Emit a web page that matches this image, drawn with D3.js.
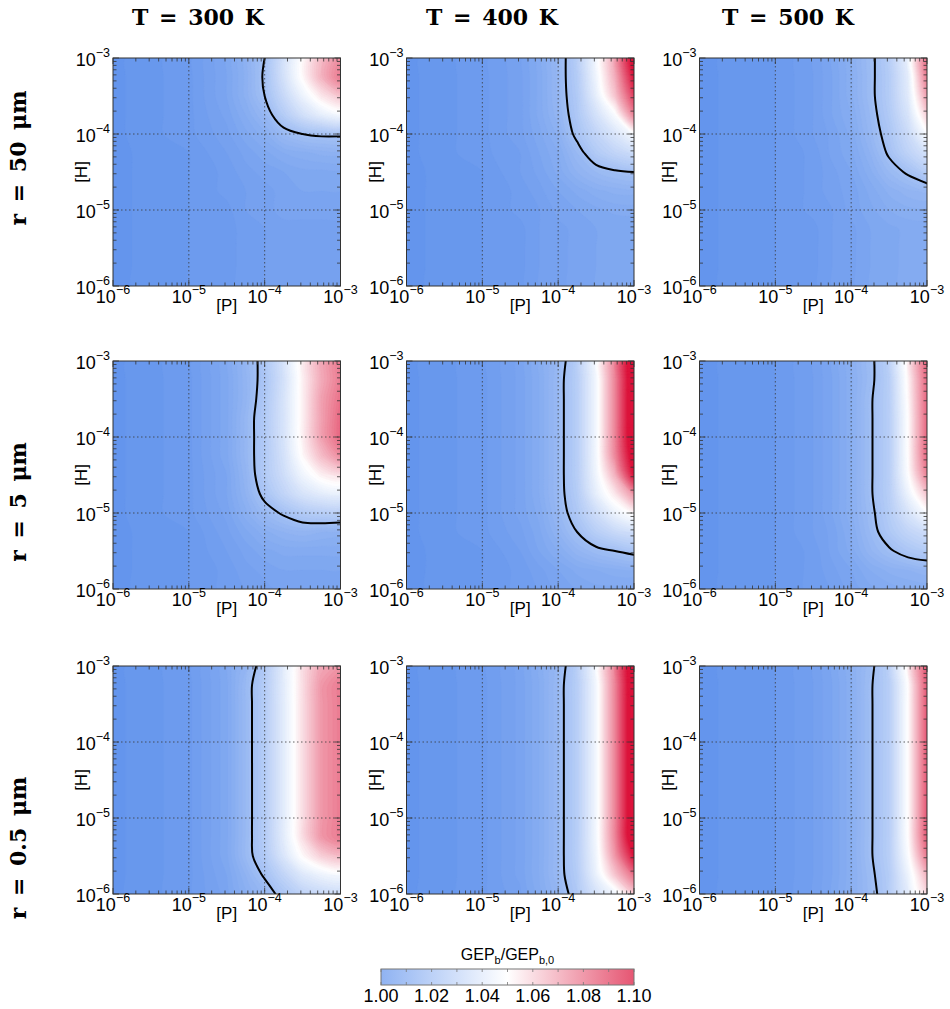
<!DOCTYPE html>
<html>
<head>
<meta charset="utf-8">
<script src="https://cdn.jsdelivr.net/npm/d3@7"></script>
<style>
  body { margin: 0; background: #fff; }
  svg text { font-family: "Liberation Sans", Arial, sans-serif; fill: #000; }
  .title { font-family: "DejaVu Serif", serif; font-weight: bold; }
</style>
</head>
<body>
<svg id="fig" width="950" height="1009"></svg>
<script>
// grid nodes in log10 space; rows of every panel run from [H]=1e-3 (top) down to 1e-6
const pNodes = [-6, -5, -4.5, -4.25, -4, -3.75, -3.5, -3.25, -3];
const hNodes = [-3, -3.25, -3.5, -3.75, -4, -4.25, -4.5, -4.75, -5, -5.25, -5.5, -5.75, -6];

const temperatures = ["T = 300 K", "T = 400 K", "T = 500 K"];
const radii = ["r = 50 μm", "r = 5 μm", "r = 0.5 μm"];
const decades = [1e-6, 1e-5, 1e-4, 1e-3];
const decadeExp = ["−6", "−5", "−4", "−3"];
const cbTicks = [1.00, 1.02, 1.04, 1.06, 1.08, 1.10];
const contourLevel = 1.02;

// GEP_b / GEP_b,0
const gep_r50_T300 = [
  [1.000,1.003,1.008,1.013,1.020,1.035,1.050,1.064,1.074],
  [1.000,1.003,1.008,1.013,1.021,1.036,1.051,1.066,1.078],
  [1.000,1.003,1.008,1.013,1.020,1.032,1.044,1.055,1.062],
  [1.000,1.003,1.007,1.011,1.016,1.026,1.035,1.042,1.046],
  [1.000,1.003,1.006,1.009,1.012,1.017,1.020,1.021,1.021],
  [1.000,1.002,1.005,1.007,1.009,1.011,1.012,1.013,1.013],
  [1.000,1.002,1.004,1.006,1.007,1.008,1.009,1.009,1.009],
  [1.000,1.002,1.004,1.005,1.006,1.007,1.008,1.008,1.008],
  [1.000,1.002,1.003,1.005,1.006,1.007,1.007,1.007,1.007],
  [1.000,1.002,1.003,1.004,1.005,1.006,1.006,1.006,1.006],
  [1.000,1.002,1.003,1.004,1.005,1.006,1.006,1.006,1.006],
  [1.000,1.002,1.003,1.004,1.005,1.006,1.006,1.006,1.006],
  [1.000,1.002,1.003,1.004,1.005,1.006,1.006,1.006,1.006]
];
const gep_r50_T400 = [
  [1.000,1.003,1.006,1.010,1.016,1.026,1.045,1.068,1.105],
  [1.000,1.003,1.006,1.010,1.016,1.026,1.045,1.067,1.100],
  [1.000,1.003,1.006,1.010,1.016,1.025,1.042,1.062,1.090],
  [1.000,1.003,1.006,1.010,1.015,1.024,1.036,1.048,1.076],
  [1.000,1.003,1.006,1.009,1.013,1.022,1.030,1.038,1.047],
  [1.000,1.003,1.005,1.008,1.011,1.017,1.025,1.030,1.033],
  [1.000,1.002,1.005,1.007,1.010,1.014,1.017,1.019,1.020],
  [1.000,1.002,1.004,1.006,1.008,1.010,1.012,1.013,1.013],
  [1.000,1.002,1.004,1.005,1.007,1.008,1.009,1.010,1.010],
  [1.000,1.002,1.003,1.005,1.006,1.007,1.008,1.008,1.008],
  [1.000,1.002,1.003,1.005,1.006,1.007,1.008,1.008,1.008],
  [1.000,1.002,1.003,1.005,1.006,1.007,1.008,1.008,1.008],
  [1.000,1.002,1.003,1.005,1.006,1.007,1.008,1.008,1.008]
];
const gep_r50_T500 = [
  [1.000,1.002,1.005,1.008,1.012,1.018,1.026,1.042,1.080],
  [1.000,1.002,1.005,1.008,1.012,1.018,1.026,1.041,1.078],
  [1.000,1.002,1.005,1.008,1.012,1.018,1.026,1.040,1.070],
  [1.000,1.002,1.005,1.008,1.011,1.017,1.025,1.037,1.060],
  [1.000,1.002,1.005,1.007,1.010,1.016,1.023,1.033,1.048],
  [1.000,1.002,1.004,1.007,1.009,1.014,1.021,1.029,1.036],
  [1.000,1.002,1.004,1.006,1.008,1.012,1.017,1.021,1.026],
  [1.000,1.002,1.004,1.006,1.007,1.010,1.013,1.015,1.016],
  [1.000,1.002,1.004,1.005,1.007,1.009,1.011,1.012,1.012],
  [1.000,1.002,1.003,1.005,1.006,1.008,1.009,1.010,1.010],
  [1.000,1.002,1.003,1.005,1.006,1.008,1.009,1.010,1.010],
  [1.000,1.002,1.003,1.005,1.006,1.008,1.009,1.010,1.010],
  [1.000,1.002,1.003,1.005,1.006,1.008,1.009,1.010,1.010]
];
const gep_r5_T300 = [
  [1.000,1.003,1.009,1.015,1.023,1.036,1.053,1.068,1.078],
  [1.000,1.003,1.009,1.015,1.023,1.036,1.053,1.068,1.078],
  [1.000,1.003,1.009,1.015,1.024,1.037,1.053,1.070,1.080],
  [1.000,1.003,1.009,1.016,1.025,1.037,1.053,1.070,1.082],
  [1.000,1.003,1.009,1.016,1.025,1.037,1.053,1.070,1.082],
  [1.000,1.003,1.009,1.016,1.025,1.036,1.051,1.064,1.074],
  [1.000,1.003,1.008,1.015,1.025,1.034,1.045,1.053,1.056],
  [1.000,1.003,1.008,1.014,1.022,1.030,1.037,1.041,1.042],
  [1.000,1.003,1.007,1.012,1.017,1.021,1.025,1.027,1.027],
  [1.000,1.002,1.006,1.009,1.012,1.014,1.015,1.014,1.013],
  [1.000,1.002,1.005,1.007,1.009,1.010,1.010,1.010,1.010],
  [1.000,1.002,1.004,1.006,1.007,1.008,1.008,1.008,1.008],
  [1.000,1.002,1.004,1.005,1.006,1.007,1.007,1.007,1.007]
];
const gep_r5_T400 = [
  [1.000,1.003,1.007,1.011,1.016,1.026,1.046,1.075,1.110],
  [1.000,1.003,1.007,1.011,1.017,1.027,1.046,1.076,1.112],
  [1.000,1.003,1.007,1.011,1.017,1.027,1.046,1.076,1.112],
  [1.000,1.003,1.007,1.011,1.017,1.027,1.046,1.076,1.112],
  [1.000,1.003,1.007,1.011,1.017,1.027,1.046,1.076,1.112],
  [1.000,1.003,1.007,1.011,1.017,1.027,1.046,1.075,1.108],
  [1.000,1.003,1.007,1.011,1.017,1.027,1.045,1.066,1.100],
  [1.000,1.003,1.007,1.011,1.017,1.026,1.042,1.055,1.072],
  [1.000,1.003,1.007,1.010,1.016,1.024,1.034,1.044,1.051],
  [1.000,1.003,1.006,1.009,1.014,1.020,1.027,1.032,1.034],
  [1.000,1.002,1.005,1.008,1.011,1.015,1.018,1.020,1.022],
  [1.000,1.002,1.004,1.006,1.008,1.010,1.011,1.012,1.012],
  [1.000,1.002,1.004,1.005,1.007,1.008,1.009,1.009,1.009]
];
const gep_r5_T500 = [
  [1.000,1.002,1.005,1.008,1.012,1.018,1.027,1.052,1.082],
  [1.000,1.002,1.005,1.008,1.012,1.018,1.027,1.052,1.082],
  [1.000,1.002,1.005,1.008,1.012,1.019,1.027,1.051,1.082],
  [1.000,1.002,1.005,1.008,1.012,1.019,1.027,1.050,1.082],
  [1.000,1.002,1.005,1.008,1.012,1.019,1.027,1.050,1.082],
  [1.000,1.002,1.005,1.008,1.012,1.019,1.027,1.050,1.082],
  [1.000,1.002,1.005,1.008,1.012,1.019,1.027,1.049,1.076],
  [1.000,1.002,1.005,1.008,1.012,1.019,1.027,1.044,1.062],
  [1.000,1.002,1.005,1.008,1.012,1.018,1.026,1.037,1.048],
  [1.000,1.002,1.005,1.007,1.011,1.017,1.024,1.030,1.034],
  [1.000,1.002,1.004,1.007,1.010,1.015,1.019,1.023,1.025],
  [1.000,1.002,1.004,1.006,1.008,1.011,1.013,1.014,1.015],
  [1.000,1.002,1.004,1.005,1.007,1.009,1.010,1.011,1.011]
];
const gep_r05_T300 = [
  [1.000,1.003,1.009,1.015,1.024,1.040,1.056,1.068,1.072],
  [1.000,1.003,1.009,1.017,1.026,1.041,1.057,1.072,1.078],
  [1.000,1.003,1.009,1.017,1.026,1.041,1.057,1.072,1.078],
  [1.000,1.003,1.009,1.017,1.026,1.041,1.057,1.072,1.078],
  [1.000,1.003,1.009,1.017,1.026,1.041,1.057,1.072,1.078],
  [1.000,1.003,1.009,1.017,1.026,1.041,1.057,1.072,1.078],
  [1.000,1.003,1.009,1.017,1.026,1.041,1.057,1.072,1.078],
  [1.000,1.003,1.009,1.017,1.026,1.041,1.057,1.072,1.078],
  [1.000,1.003,1.009,1.017,1.026,1.041,1.057,1.072,1.078],
  [1.000,1.003,1.009,1.017,1.026,1.041,1.057,1.072,1.078],
  [1.000,1.003,1.009,1.017,1.025,1.038,1.051,1.060,1.064],
  [1.000,1.003,1.008,1.014,1.021,1.030,1.039,1.044,1.046],
  [1.000,1.003,1.007,1.012,1.016,1.023,1.029,1.032,1.033]
];
const gep_r05_T400 = [
  [1.000,1.003,1.007,1.011,1.016,1.026,1.046,1.075,1.110],
  [1.000,1.003,1.007,1.011,1.017,1.027,1.046,1.076,1.112],
  [1.000,1.003,1.007,1.011,1.017,1.027,1.046,1.076,1.112],
  [1.000,1.003,1.007,1.011,1.017,1.027,1.046,1.076,1.112],
  [1.000,1.003,1.007,1.011,1.017,1.027,1.046,1.076,1.112],
  [1.000,1.003,1.007,1.011,1.017,1.027,1.046,1.076,1.112],
  [1.000,1.003,1.007,1.011,1.017,1.027,1.046,1.076,1.112],
  [1.000,1.003,1.007,1.011,1.017,1.027,1.046,1.076,1.112],
  [1.000,1.003,1.007,1.011,1.017,1.027,1.046,1.076,1.112],
  [1.000,1.003,1.007,1.011,1.017,1.027,1.046,1.076,1.112],
  [1.000,1.003,1.007,1.011,1.017,1.027,1.045,1.072,1.100],
  [1.000,1.003,1.007,1.011,1.017,1.026,1.043,1.062,1.080],
  [1.000,1.003,1.006,1.010,1.015,1.024,1.036,1.045,1.060]
];
const gep_r05_T500 = [
  [1.000,1.002,1.005,1.008,1.012,1.018,1.027,1.052,1.085],
  [1.000,1.002,1.005,1.008,1.012,1.019,1.027,1.050,1.085],
  [1.000,1.002,1.005,1.008,1.012,1.019,1.027,1.050,1.085],
  [1.000,1.002,1.005,1.008,1.012,1.019,1.027,1.050,1.085],
  [1.000,1.002,1.005,1.008,1.012,1.019,1.027,1.050,1.085],
  [1.000,1.002,1.005,1.008,1.012,1.019,1.027,1.050,1.085],
  [1.000,1.002,1.005,1.008,1.012,1.019,1.027,1.050,1.085],
  [1.000,1.002,1.005,1.008,1.012,1.019,1.027,1.050,1.085],
  [1.000,1.002,1.005,1.008,1.012,1.019,1.027,1.050,1.085],
  [1.000,1.002,1.005,1.008,1.012,1.019,1.027,1.050,1.085],
  [1.000,1.002,1.005,1.008,1.012,1.019,1.027,1.048,1.078],
  [1.000,1.002,1.005,1.008,1.012,1.018,1.026,1.044,1.066],
  [1.000,1.002,1.005,1.008,1.012,1.017,1.025,1.040,1.058]
];

const panels = [
  [gep_r50_T300, gep_r50_T400, gep_r50_T500],
  [gep_r5_T300, gep_r5_T400, gep_r5_T500],
  [gep_r05_T300, gep_r05_T400, gep_r05_T500]
];

const svg = d3.select("#fig");

// layout
const colX = [113, 406.5, 699.5];
const rowY = [58, 361, 666];
const pw = 227.5, ph = 228;
const titleX = [198, 492, 788];
const rowLabelY = [158, 502, 848];

const color = d3.scaleLinear()
  .domain([1.00, 1.05, 1.10])
  .range(["#6495ed", "#ffffff", "#dc143c"])
  .clamp(true);

const thresholds = d3.range(0.999, 1.113, 0.0015);
const gi = d3.scaleLinear().domain(d3.range(pNodes.length)).range(pNodes).clamp(true);
const gj = d3.scaleLinear().domain(d3.range(hNodes.length)).range(hNodes).clamp(true);

const minorTicks = [];
[-6, -5, -4].forEach(e => { for (let k = 2; k <= 9; k++) minorTicks.push(k * Math.pow(10, e)); });

const ringCurve = d3.line().curve(d3.curveCatmullRomClosed.alpha(0.5));
const lineCurve = d3.line().curve(d3.curveCatmullRom.alpha(0.5));

const defs = svg.append("defs");

function expLabel(sel, exp) {
  sel.append("tspan").text("10");
  sel.append("tspan").attr("font-size", 12.5).attr("dy", -9).text(exp);
}

function dedupe(pts) {
  const out = [];
  pts.forEach(p => {
    const q = out[out.length - 1];
    if (!q || Math.abs(q[0] - p[0]) > 0.01 || Math.abs(q[1] - p[1]) > 0.01) out.push(p);
  });
  if (out.length > 1) {
    const a = out[0], b = out[out.length - 1];
    if (Math.abs(a[0] - b[0]) < 0.01 && Math.abs(a[1] - b[1]) < 0.01) out.pop();
  }
  return out;
}

panels.forEach((row, r) => {
  row.forEach((grid, c) => {
    const x0 = colX[c], y0 = rowY[r];
    const x = d3.scaleLog().domain([1e-6, 1e-3]).range([x0, x0 + pw]);
    const y = d3.scaleLog().domain([1e-6, 1e-3]).range([y0 + ph, y0]);
    const proj = p => [x(Math.pow(10, gi(p[0] - 0.5))), y(Math.pow(10, gj(p[1] - 0.5)))];

    const clipId = `clip${r}${c}`;
    defs.append("clipPath").attr("id", clipId)
      .append("rect").attr("x", x0).attr("y", y0).attr("width", pw).attr("height", ph);

    const g = svg.append("g");
    const body = g.append("g").attr("clip-path", `url(#${clipId})`);

    body.append("rect").attr("x", x0).attr("y", y0).attr("width", pw).attr("height", ph)
      .attr("fill", color(1.0));

    const values = grid.flat();
    const gen = d3.contours().size([pNodes.length, hNodes.length]);

    body.selectAll("path.band")
      .data(gen.thresholds(thresholds)(values))
      .enter().append("path")
      .attr("class", "band")
      .attr("fill-rule", "evenodd")
      .attr("d", d => d.coordinates.map(poly =>
        poly.map(ring => ringCurve(dedupe(ring.map(proj)))).join("")).join(""))
      .attr("fill", d => color(d.value + 0.00075))
      .attr("stroke", d => color(d.value + 0.00075))
      .attr("stroke-width", 0.3);

    // iso-line only: drop the pieces that run along the panel border
    const iso = gen.contour(values, contourLevel);
    const eps = 0.05;
    const onEdge = (a, b) =>
      (Math.abs(a[0] - x0) < eps && Math.abs(b[0] - x0) < eps) ||
      (Math.abs(a[0] - x0 - pw) < eps && Math.abs(b[0] - x0 - pw) < eps) ||
      (Math.abs(a[1] - y0) < eps && Math.abs(b[1] - y0) < eps) ||
      (Math.abs(a[1] - y0 - ph) < eps && Math.abs(b[1] - y0 - ph) < eps);
    const pieces = [];
    iso.coordinates.forEach(poly => poly.forEach(ring => {
      let pts = dedupe(ring.map(proj));
      const n = pts.length;
      let start = 0;
      for (let k = 0; k < n; k++) {
        if (onEdge(pts[k], pts[(k + 1) % n])) { start = (k + 1) % n; break; }
      }
      pts = pts.slice(start).concat(pts.slice(0, start));
      let cur = null;
      for (let k = 0; k < n; k++) {
        const a = pts[k], b = pts[(k + 1) % n];
        if (onEdge(a, b)) { cur = null; continue; }
        if (!cur) { cur = [a]; pieces.push(cur); }
        cur.push(b);
      }
    }));

    // dotted grid at the inner decades
    [1e-5, 1e-4].forEach(v => {
      body.append("line").attr("x1", x(v)).attr("x2", x(v)).attr("y1", y0).attr("y2", y0 + ph)
        .attr("stroke", "#3a3a3a").attr("stroke-width", 0.8).attr("stroke-dasharray", "1.5,2.5");
      body.append("line").attr("y1", y(v)).attr("y2", y(v)).attr("x1", x0).attr("x2", x0 + pw)
        .attr("stroke", "#3a3a3a").attr("stroke-width", 0.8).attr("stroke-dasharray", "1.5,2.5");
    });

    body.selectAll("path.iso").data(pieces).enter().append("path")
      .attr("class", "iso")
      .attr("d", lineCurve)
      .attr("fill", "none").attr("stroke", "#000").attr("stroke-width", 2)
      .attr("stroke-linecap", "round").attr("stroke-linejoin", "round");

    // inward ticks on all four sides
    const tk = g.append("g").attr("stroke", "#333").attr("stroke-width", 0.8);
    const tickSet = decades.map(v => [v, 6]).concat(minorTicks.map(v => [v, 3.5]));
    tickSet.forEach(([v, len]) => {
      tk.append("line").attr("x1", x(v)).attr("x2", x(v)).attr("y1", y0 + ph).attr("y2", y0 + ph - len);
      tk.append("line").attr("x1", x(v)).attr("x2", x(v)).attr("y1", y0).attr("y2", y0 + len);
      tk.append("line").attr("y1", y(v)).attr("y2", y(v)).attr("x1", x0).attr("x2", x0 + len);
      tk.append("line").attr("y1", y(v)).attr("y2", y(v)).attr("x1", x0 + pw).attr("x2", x0 + pw - len);
    });

    g.append("rect").attr("x", x0).attr("y", y0).attr("width", pw).attr("height", ph)
      .attr("fill", "none").attr("stroke", "#333").attr("stroke-width", 1);

    // tick labels
    decades.forEach((v, i) => {
      g.append("text").attr("x", x(v)).attr("y", y0 + ph + 17)
        .attr("text-anchor", "middle").attr("font-size", 18)
        .call(expLabel, decadeExp[i]);
      g.append("text").attr("x", x0 - 3).attr("y", y(v) + 8)
        .attr("text-anchor", "end").attr("font-size", 18)
        .call(expLabel, decadeExp[i]);
    });

    g.append("text").attr("x", x0 + pw / 2).attr("y", y0 + ph + 25)
      .attr("text-anchor", "middle").attr("font-size", 17).text("[P]");
    g.append("text").attr("transform", `translate(${x0 - 26},${y0 + ph / 2}) rotate(-90)`)
      .attr("text-anchor", "middle").attr("font-size", 17).text("[H]");
  });
});

// column and row headings
temperatures.forEach((t, i) => {
  svg.append("text").attr("class", "title").attr("x", titleX[i]).attr("y", 25)
    .attr("text-anchor", "middle").attr("font-size", 22)
    .attr("word-spacing", 3).text(t);
});
radii.forEach((t, i) => {
  svg.append("text").attr("class", "title")
    .attr("transform", `translate(26,${rowLabelY[i]}) rotate(-90)`)
    .attr("text-anchor", "middle").attr("font-size", 22)
    .attr("word-spacing", 4).text(t);
});

// colour bar
const cb = { x: 381, y: 969, w: 253, h: 16 };
const cx = d3.scaleLinear().domain([1.00, 1.10]).range([cb.x, cb.x + cb.w]);
const grad = defs.append("linearGradient").attr("id", "cbgrad");
color.domain().forEach(v => {
  grad.append("stop").attr("offset", (v - 1.00) / 0.10)
    .attr("stop-color", color(v)).attr("stop-opacity", 0.72);
});
svg.append("rect").attr("x", cb.x).attr("y", cb.y).attr("width", cb.w).attr("height", cb.h)
  .attr("fill", "url(#cbgrad)");
d3.range(1.00, 1.1001, 0.01).forEach(v => {
  svg.append("line").attr("x1", cx(v)).attr("x2", cx(v)).attr("y1", cb.y).attr("y2", cb.y + 3)
    .attr("stroke", "#777").attr("stroke-width", 0.8);
  svg.append("line").attr("x1", cx(v)).attr("x2", cx(v)).attr("y1", cb.y + cb.h).attr("y2", cb.y + cb.h - 3)
    .attr("stroke", "#777").attr("stroke-width", 0.8);
});
svg.append("rect").attr("x", cb.x).attr("y", cb.y).attr("width", cb.w).attr("height", cb.h)
  .attr("fill", "none").attr("stroke", "#777").attr("stroke-width", 1);
cbTicks.forEach(v => {
  svg.append("text").attr("x", cx(v)).attr("y", 1002).attr("text-anchor", "middle")
    .attr("font-size", 18).text(v.toFixed(2));
});
const cbl = svg.append("text").attr("x", cx(1.05)).attr("y", 960)
  .attr("text-anchor", "middle").attr("font-size", 16);
cbl.append("tspan").text("GEP");
cbl.append("tspan").attr("font-size", 11).attr("dy", 4).text("b");
cbl.append("tspan").attr("dy", -4).text("/GEP");
cbl.append("tspan").attr("font-size", 11).attr("dy", 4).text("b,0");
</script>
</body>
</html>
